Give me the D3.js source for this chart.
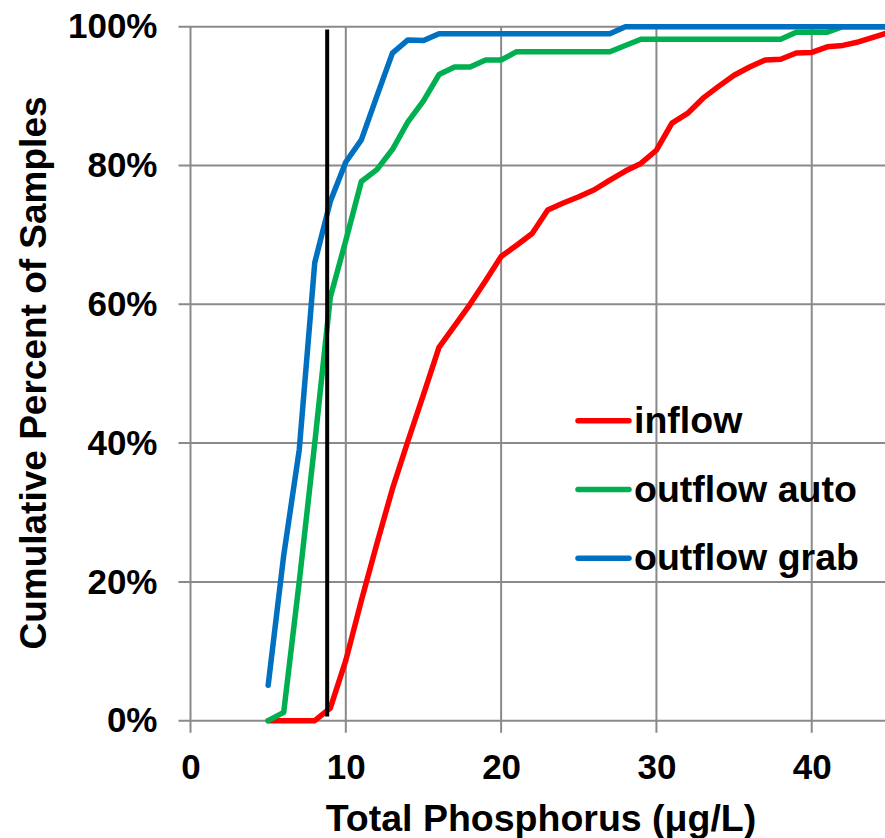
<!DOCTYPE html>
<html>
<head>
<meta charset="utf-8">
<script src="https://cdn.jsdelivr.net/npm/d3@7"></script>
<style>
  body { margin: 0; background: #fff; }
  svg text { font-family: "Liberation Sans", Arial, sans-serif; font-weight: bold; fill: #000; }
</style>
</head>
<body>
<svg id="chart"></svg>
<script>
// Total phosphorus (ug/L) at each step of the cumulative curves
const tpValues = [5, 6, 7, 8, 9, 10, 11, 12, 13, 14, 15, 16, 17, 18, 19, 20, 21, 22, 23, 24, 25,
  26, 27, 28, 29, 30, 31, 32, 33, 34, 35, 36, 37, 38, 39, 40, 41, 42, 43, 44, 45];

// cumulative percent of samples
const inflow = [0, 0, 0, 0, 1.8, 8.7, 17.3, 25.5, 33.4, 40.3, 47, 53.8, 56.9, 60, 63.4, 66.9, 68.5,
  70.2, 73.6, 74.6, 75.5, 76.5, 77.9, 79.2, 80.3, 82.2, 86.1, 87.5, 89.7, 91.4, 93, 94.2, 95.2,
  95.3, 96.2, 96.3, 97.1, 97.3, 97.8, 98.5, 99.2];
const outflowAuto = [0, 1.2, 20, 40, 61, 69.2, 77.7, 79.4, 82.3, 86.3, 89.3, 93.1, 94.2, 94.2, 95.2,
  95.2, 96.4, 96.4, 96.4, 96.4, 96.4, 96.4, 96.4, 97.3, 98.2, 98.2, 98.2, 98.2, 98.2, 98.2, 98.2,
  98.2, 98.2, 98.2, 99.2, 99.2, 99.2, 100, 100, 100, 100];
const outflowGrab = [5.1, 23.8, 39, 66, 74.8, 80.5, 83.7, 90, 96.2, 98.1, 98, 99, 99, 99, 99, 99,
  99, 99, 99, 99, 99, 99, 99, 100, 100, 100, 100, 100, 100, 100, 100, 100, 100, 100, 100, 100,
  100, 100, 100, 100, 100];

// black reference line
const refLineX = [8.8, 8.8];
const refLineY = [0.6, 99.6];

const seriesNames = ["inflow", "outflow auto", "outflow grab"];
const seriesColors = ["#ff0000", "#00b050", "#0070c0"];

const xTicks = [0, 10, 20, 30, 40];
const yTicks = [0, 20, 40, 60, 80, 100];

class CumulativeChart {

  constructor(_config) {
    this.config = {
      parentElement: _config.parentElement,
      containerWidth: _config.containerWidth || 885,
      containerHeight: _config.containerHeight || 838
    }
    this.initVis();
  }

  initVis() {
    let vis = this;

    vis.svg = d3.select(vis.config.parentElement)
        .attr("width", vis.config.containerWidth)
        .attr("height", vis.config.containerHeight);

    // plot runs 0..45 on x, the picture is cut at the right edge
    vis.xScale = d3.scaleLinear()
      .domain([0, 45])
      .range([190.5, 889.4]);

    vis.yScale = d3.scaleLinear()
      .domain([0, 100])
      .range([720.7, 26.7]);

    vis.render();
  }

  render() {
    let vis = this;
    let x0 = vis.xScale(0), y0 = vis.yScale(0), yTop = vis.yScale(100);

    // gridlines
    vis.svg.append("g").selectAll("line.hgrid")
      .data(yTicks)
      .join("line")
        .attr("x1", x0 - 12)
        .attr("x2", vis.config.containerWidth)
        .attr("y1", d => vis.yScale(d))
        .attr("y2", d => vis.yScale(d))
        .attr("stroke", "#8a8a8a")
        .attr("stroke-width", 2);

    vis.svg.append("g").selectAll("line.vgrid")
      .data(xTicks)
      .join("line")
        .attr("x1", d => vis.xScale(d))
        .attr("x2", d => vis.xScale(d))
        .attr("y1", yTop)
        .attr("y2", y0 + 12)
        .attr("stroke", "#8a8a8a")
        .attr("stroke-width", 2);

    // axes (labels only, lines drawn above)
    let xAxis = d3.axisBottom(vis.xScale)
      .tickValues(xTicks)
      .tickSize(12)
      .tickPadding(21)
      .tickFormat(d3.format("d"));

    let yAxis = d3.axisLeft(vis.yScale)
      .tickValues(yTicks)
      .tickSize(12)
      .tickPadding(21)
      .tickFormat(d => d + "%");

    vis.svg.append("g")
      .attr("transform", `translate(0,${y0})`)
      .call(xAxis)
      .call(g => g.select(".domain").remove())
      .call(g => g.selectAll("line").remove())
      .selectAll("text")
        .style("font-size", "35px");

    vis.svg.append("g")
      .attr("transform", `translate(${x0},0)`)
      .call(yAxis)
      .call(g => g.select(".domain").remove())
      .call(g => g.selectAll("line").remove())
      .selectAll("text")
        .style("font-size", "35px");

    // axis titles
    vis.svg.append("text")
      .attr("x", 541)
      .attr("y", 831)
      .attr("text-anchor", "middle")
      .style("font-size", "37.5px")
      .text("Total Phosphorus (\u03bcg/L)");

    vis.svg.append("text")
      .attr("transform", "translate(46,373) rotate(-90)")
      .attr("text-anchor", "middle")
      .style("font-size", "37px")
      .text("Cumulative Percent of Samples");

    // curves
    let allSeries = [inflow, outflowAuto, outflowGrab];
    let line = d3.line()
      .x(d => vis.xScale(d[0]))
      .y(d => vis.yScale(d[1]));

    allSeries.forEach((vals, i) => {
      vis.svg.append("path")
        .datum(tpValues.map((t, j) => [t, vals[j]]))
        .attr("fill", "none")
        .attr("stroke", seriesColors[i])
        .attr("stroke-width", 5.5)
        .attr("stroke-linejoin", "round")
        .attr("stroke-linecap", "round")
        .attr("d", line);
    });

    vis.svg.append("path")
      .datum(refLineX.map((t, j) => [t, refLineY[j]]))
      .attr("fill", "none")
      .attr("stroke", "#000")
      .attr("stroke-width", 4)
      .attr("d", line);

    // legend
    let legend = vis.svg.append("g");
    let legendY = [420.7, 489.5, 558.3];

    seriesNames.forEach((name, i) => {
      legend.append("line")
        .attr("x1", 578)
        .attr("x2", 629)
        .attr("y1", legendY[i])
        .attr("y2", legendY[i])
        .attr("stroke", seriesColors[i])
        .attr("stroke-width", 5.5)
        .attr("stroke-linecap", "round");

      legend.append("text")
        .attr("x", 634)
        .attr("y", legendY[i] + 12)
        .style("font-size", "37.5px")
        .text(name);
    });
  }
}

let chart = new CumulativeChart({ parentElement: "#chart" });
</script>
</body>
</html>
